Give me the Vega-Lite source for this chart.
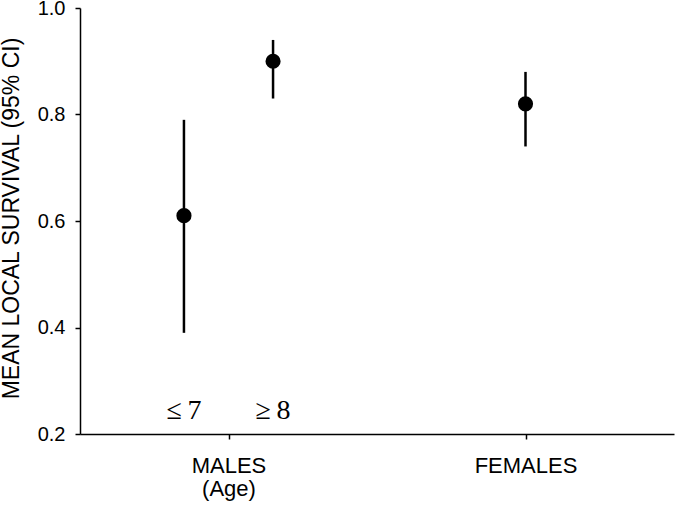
{
  "$schema": "https://vega.github.io/schema/vega-lite/v6.json",
  "width": 594,
  "height": 426,
  "autosize": "none",
  "padding": {"left": 80, "top": 8, "right": 1, "bottom": 73},
  "background": "white",
  "config": {
    "view": {"stroke": null},
    "font": "Liberation Sans",
    "axis": {
      "grid": false,
      "domainColor": "black",
      "domainWidth": 1.5,
      "tickColor": "black",
      "tickWidth": 1.5,
      "tickSize": 5,
      "labelColor": "black",
      "labelFont": "Liberation Sans",
      "labelFontSize": 20,
      "titleColor": "black",
      "titleFont": "Liberation Sans",
      "titleFontWeight": "normal"
    }
  },
  "datasets": {
    "est": [
      {"group": "MALES <=7", "x": 0.7, "mean": 0.61, "lo": 0.39, "hi": 0.79},
      {"group": "MALES >=8", "x": 1.3, "mean": 0.90, "lo": 0.83, "hi": 0.94},
      {"group": "FEMALES", "x": 3.0, "mean": 0.82, "lo": 0.74, "hi": 0.88}
    ],
    "age": [
      {"x": 0.7, "y": 0.243, "label": "≤\u20097"},
      {"x": 1.3, "y": 0.243, "label": "≥\u20098"}
    ]
  },
  "layer": [
    {
      "data": {"name": "est"},
      "mark": {"type": "rule", "color": "black", "strokeWidth": 2.5},
      "encoding": {
        "x": {
          "field": "x", "type": "quantitative",
          "scale": {"domain": [0, 4], "nice": false, "zero": false},
          "axis": {
            "values": [1, 3],
            "title": null,
            "labelExpr": "datum.value < 2 ? ['MALES', '(Age)'] : 'FEMALES'",
            "labelFontSize": 22,
            "labelPadding": 16,
            "labelLineHeight": 23
          }
        },
        "y": {
          "field": "lo", "type": "quantitative",
          "scale": {"domain": [0.2, 1.0], "nice": false, "zero": false},
          "axis": {
            "values": [0.2, 0.4, 0.6, 0.8, 1.0],
            "format": ".1f",
            "labelPadding": 10,
            "title": "MEAN LOCAL SURVIVAL (95% CI)",
            "titleFontSize": 23,
            "titleX": -69,
            "titleY": 210,
            "titleAngle": -90,
            "titleAlign": "center",
            "titleBaseline": "middle"
          }
        },
        "y2": {"field": "hi"}
      }
    },
    {
      "data": {"name": "est"},
      "mark": {"type": "point", "shape": "circle", "filled": true, "color": "black", "opacity": 1, "size": 230},
      "encoding": {
        "x": {"field": "x", "type": "quantitative"},
        "y": {"field": "mean", "type": "quantitative"}
      }
    },
    {
      "data": {"name": "age"},
      "mark": {"type": "text", "font": "Liberation Serif", "fontSize": 28, "color": "black", "baseline": "middle", "align": "center"},
      "encoding": {
        "x": {"field": "x", "type": "quantitative"},
        "y": {"field": "y", "type": "quantitative"},
        "text": {"field": "label"}
      }
    }
  ]
}
